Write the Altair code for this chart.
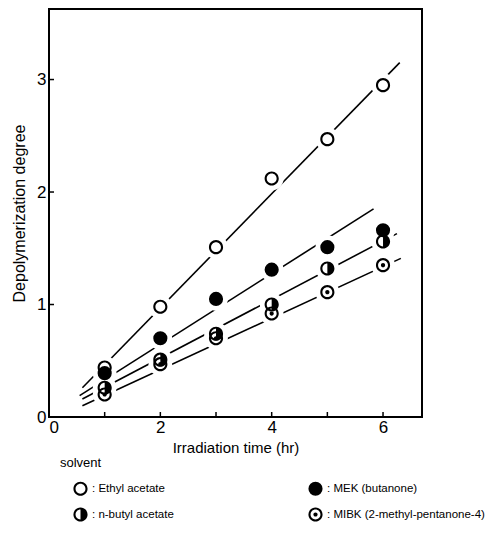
import altair as alt
import pandas as pd

# ---- data ----
hours = [1, 2, 3, 4, 5, 6]
ethyl_acetate = [0.44, 0.98, 1.51, 2.12, 2.47, 2.95]
mek = [0.39, 0.70, 1.05, 1.31, 1.51, 1.66]
n_butyl_acetate = [0.26, 0.51, 0.74, 1.00, 1.32, 1.56]
mibk = [0.20, 0.47, 0.70, 0.92, 1.11, 1.35]

solvents = ["Ethyl acetate", "MEK (butanone)", "n-butyl acetate", "MIBK (2-methyl-pentanone-4)"]

# fitted straight lines (start / end)
fit_x_start = [0.60, 0.55, 0.60, 0.60]
fit_y_start = [0.26, 0.19, 0.16, 0.10]
fit_x_end = [6.30, 5.83, 6.25, 6.32]
fit_y_end = [3.15, 1.85, 1.63, 1.41]

x_label_values = [0, 2, 4, 6]
x_tick_values = [1, 2, 3, 4, 5, 6]
y_label_values = [0, 1, 2, 3]
y_tick_values = [1, 2, 3]

# ---- tables ----
series = [ethyl_acetate, mek, n_butyl_acetate, mibk]
points = pd.DataFrame(
    [{"hours": h, "degree": v, "solvent": s} for s, vals in zip(solvents, series) for h, v in zip(hours, vals)]
)
fits = pd.DataFrame({
    "solvent": solvents,
    "x0": fit_x_start, "y0": fit_y_start,
    "x1": fit_x_end, "y1": fit_y_end,
})
xticks_df = pd.DataFrame({"t": x_tick_values, "base": [0] * len(x_tick_values)})
yticks_df = pd.DataFrame({"t": y_tick_values, "base": [0] * len(y_tick_values)})

# ---- style ----
FONT = "Liberation Sans"
W, H = 373, 408
X_DOMAIN = [0, 6.7]
Y_DOMAIN = [0, 3.627]

RING = "M -1 0 A 1 1 0 1 1 1 0 A 1 1 0 1 1 -1 0 Z M -0.7 0 A 0.7 0.7 0 1 0 0.7 0 A 0.7 0.7 0 1 0 -0.7 0 Z"
HALF = RING + " M 0 -1 A 1 1 0 0 1 0 1 Z"
DOT = RING + " M -0.3 0 A 0.3 0.3 0 1 1 0.3 0 A 0.3 0.3 0 1 1 -0.3 0 Z"
shapes = [RING, "circle", HALF, DOT]

xs = alt.Scale(domain=X_DOMAIN, nice=False, zero=False)
ys = alt.Scale(domain=Y_DOMAIN, nice=False, zero=False)

fit_lines = alt.Chart(fits).mark_rule(color="black", strokeWidth=1.6).encode(
    x=alt.X("x0:Q", scale=xs, axis=alt.Axis(
        values=x_label_values, title="Irradiation  time  (hr)", grid=False, domain=False, ticks=False,
        labelFontSize=17, labelPadding=2, labelColor="black", labelFont=FONT,
        titleFont=FONT, titleFontSize=15, titleFontWeight="normal", titleColor="black", titlePadding=5)),
    x2="x1:Q",
    y=alt.Y("y0:Q", scale=ys, axis=alt.Axis(
        values=y_label_values, title="Depolymerization  degree", grid=False, domain=False, ticks=False,
        labelFontSize=17, labelPadding=3, labelColor="black", labelFont=FONT,
        titleFont=FONT, titleFontSize=16, titleFontWeight="normal", titleColor="black", titlePadding=9)),
    y2="y1:Q",
)

x_inner_ticks = alt.Chart(xticks_df).mark_tick(
    orient="vertical", size=10, thickness=1.5, color="black", opacity=1, clip=True
).encode(
    x=alt.X("t:Q", scale=xs, axis=None),
    y=alt.Y("base:Q", scale=ys, axis=None),
)

y_inner_ticks = alt.Chart(yticks_df).mark_tick(
    orient="horizontal", size=10, thickness=1.5, color="black", opacity=1, clip=True
).encode(
    y=alt.Y("t:Q", scale=ys, axis=None),
    x=alt.X("base:Q", scale=xs, axis=None),
)

halo = alt.Chart(points).mark_point(shape="circle", filled=True, color="white", opacity=1, size=560).encode(
    x=alt.X("hours:Q", scale=xs, axis=None),
    y=alt.Y("degree:Q", scale=ys, axis=None),
)

symbols = alt.Chart(points).mark_point(filled=True, color="black", opacity=1, size=200).encode(
    x=alt.X("hours:Q", scale=xs, axis=None),
    y=alt.Y("degree:Q", scale=ys, axis=None),
    shape=alt.Shape("solvent:N", scale=alt.Scale(domain=solvents, range=shapes), legend=alt.Legend(
        title="solvent", orient="none", legendX=11, legendY=448, direction="horizontal", columns=2,
        columnPadding=121, rowPadding=11, symbolOffset=13, symbolSize=200, symbolFillColor="black",
        symbolStrokeWidth=0, labelOffset=4, labelFont=FONT, labelFontSize=11.5, labelColor="black",
        labelLimit=300, labelExpr="': ' + datum.label",
        titleFont=FONT, titleFontSize=13, titleFontWeight="normal", titleColor="black", titlePadding=11)),
)

chart = alt.layer(fit_lines, x_inner_ticks, y_inner_ticks, halo, symbols).resolve_axis(
    x="independent", y="independent"
).properties(
    width=W, height=H,
    autosize=alt.AutoSizeParams(type="none"),
    padding={"left": 41, "top": 1, "right": 66, "bottom": 112},
    background="white",
).configure_view(stroke="black", strokeWidth=2)

chart.save("out.html", embed_options={"renderer": "svg", "actions": False})
